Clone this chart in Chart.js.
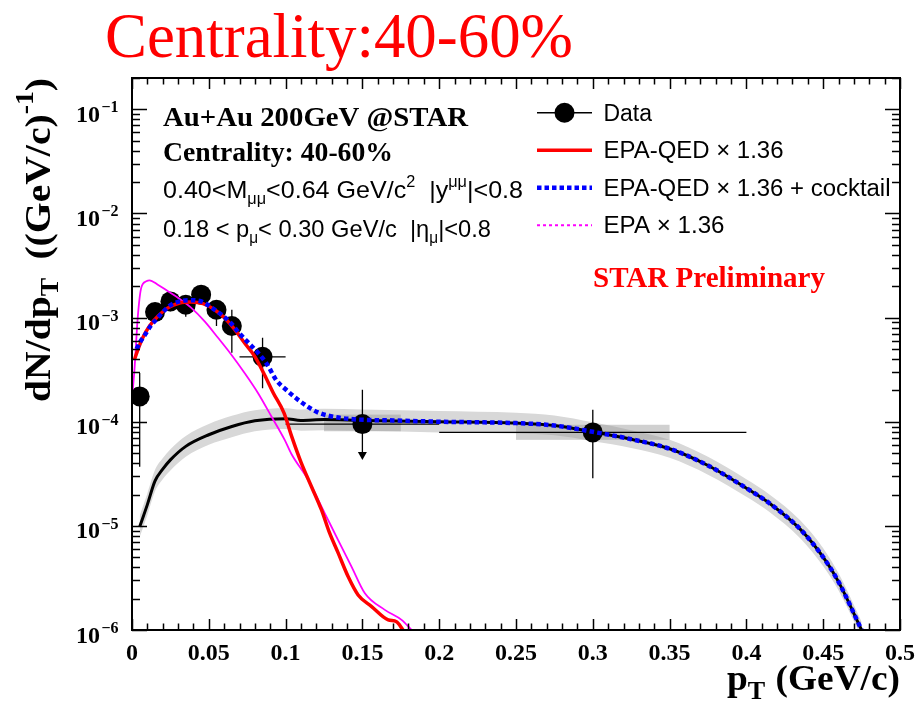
<!DOCTYPE html>
<html><head><meta charset="utf-8">
<script src="https://cdn.jsdelivr.net/npm/chart.js@4/dist/chart.umd.min.js"></script>
<style>html,body{margin:0;padding:0;background:#fff;}canvas{display:block;}</style>
</head><body>
<canvas id="c" width="917" height="706"></canvas>
<script>
// ---------- data ----------
const xTickValues = [0, 0.05, 0.1, 0.15, 0.2, 0.25, 0.3, 0.35, 0.4, 0.45, 0.5];
const yTickExponents = [-6, -5, -4, -3, -2, -1];

const dataX     = [0.005, 0.015, 0.025, 0.035, 0.045, 0.055, 0.065, 0.085, 0.15, 0.30];
const dataY     = [1.75e-4, 1.13e-3, 1.43e-3, 1.33e-3, 1.66e-3, 1.19e-3, 8.3e-4, 4.2e-4, 9.5e-5, 7.9e-5];
const dataXErr  = [0.005, 0.005, 0.005, 0.005, 0.005, 0.005, 0.005, 0.015, 0.05, 0.1];
const dataYLow  = [3.7e-5, 9.5e-4, 1.15e-3, 1.02e-3, 1.4e-3, 8.3e-4, 4.6e-4, 2.1e-4, 4.3e-5, 2.87e-5];
const dataYHigh = [2.94e-4, 1.35e-3, 1.75e-3, 1.65e-3, 2.0e-3, 1.47e-3, 1.19e-3, 6.4e-4, 2.03e-4, 1.3e-4];
const dataArrow = [0, 0, 0, 0, 0, 0, 0, 0, 1, 0];

const sysX     = [0.15, 0.30];
const sysHalfW = [0.025, 0.05];
const sysLow   = [8.1e-5, 6.7e-5];
const sysHigh  = [1.17e-4, 9.35e-5];

const cocktailX  = [0.005, 0.01, 0.015, 0.02, 0.025, 0.035, 0.05, 0.065, 0.08, 0.1, 0.11, 0.125, 0.15, 0.2, 0.25, 0.275, 0.3, 0.325, 0.35, 0.375, 0.4, 0.415, 0.435, 0.45, 0.46, 0.475];
const cocktailY  = [9.8e-6, 1.6e-5, 2.7e-5, 3.5e-5, 4.3e-5, 5.8e-5, 7.5e-5, 9.0e-5, 1.02e-4, 1.07e-4, 1.03e-4, 1.05e-4, 1.03e-4, 1.0e-4, 9.7e-5, 9.2e-5, 8.0e-5, 6.8e-5, 5.5e-5, 3.8e-5, 2.3e-5, 1.65e-5, 9.3e-6, 5.0e-6, 2.9e-6, 1.0e-6];
const cocktailUp = [1.25e-5, 2.05e-5, 3.45e-5, 4.45e-5, 5.45e-5, 7.3e-5, 9.5e-5, 1.14e-4, 1.29e-4, 1.35e-4, 1.31e-4, 1.33e-4, 1.31e-4, 1.27e-4, 1.22e-4, 1.15e-4, 9.9e-5, 8.3e-5, 6.7e-5, 4.6e-5, 2.8e-5, 2.0e-5, 1.13e-5, 6.1e-6, 3.5e-6, 1.2e-6];
const cocktailLo = [7.8e-6, 1.27e-5, 2.15e-5, 2.8e-5, 3.4e-5, 4.6e-5, 6.0e-5, 7.1e-5, 8.1e-5, 8.5e-5, 8.2e-5, 8.3e-5, 8.2e-5, 7.9e-5, 7.7e-5, 7.4e-5, 6.5e-5, 5.6e-5, 4.5e-5, 3.1e-5, 1.9e-5, 1.36e-5, 7.6e-6, 4.1e-6, 2.4e-6, 8.5e-7];

const qedX = [0.0016, 0.0038, 0.007, 0.0114, 0.0168, 0.0234, 0.031, 0.0386, 0.0462, 0.0538, 0.0603, 0.0668, 0.0733, 0.0799, 0.0864, 0.092, 0.099, 0.104, 0.110, 0.1168, 0.1233, 0.1287, 0.1342, 0.1407, 0.1472, 0.156, 0.1668, 0.1722, 0.1765];
const qedY = [3.95e-4, 4.9e-4, 6.4e-4, 8.3e-4, 1.03e-3, 1.24e-3, 1.38e-3, 1.41e-3, 1.36e-3, 1.19e-3, 9.9e-4, 7.7e-4, 5.7e-4, 4.25e-4, 2.8e-4, 1.89e-4, 1.21e-4, 7.2e-5, 4.1e-5, 2.39e-5, 1.43e-5, 8.5e-6, 5.5e-6, 3.26e-6, 2.17e-6, 1.68e-6, 1.25e-6, 1.2e-6, 1.0e-6];

const sumX = [0.003, 0.0055, 0.0086, 0.0121, 0.0158, 0.0201, 0.0245, 0.031, 0.0386, 0.0462, 0.052, 0.0581, 0.0642, 0.0701, 0.0759, 0.082, 0.0881, 0.094, 0.1, 0.106, 0.1125, 0.121, 0.132, 0.147, 0.17, 0.2, 0.25, 0.275, 0.3, 0.325, 0.35, 0.375, 0.4, 0.415, 0.435, 0.45, 0.46, 0.475];
const sumY = [5.0e-4, 5.9e-4, 6.9e-4, 8.3e-4, 9.6e-4, 1.13e-3, 1.30e-3, 1.43e-3, 1.47e-3, 1.41e-3, 1.24e-3, 1.07e-3, 8.9e-4, 7.0e-4, 5.7e-4, 4.6e-4, 3.53e-4, 2.5e-4, 2.05e-4, 1.72e-4, 1.46e-4, 1.23e-4, 1.11e-4, 1.05e-4, 1.03e-4, 1.0e-4, 9.7e-5, 9.2e-5, 8.0e-5, 6.8e-5, 5.5e-5, 3.8e-5, 2.3e-5, 1.65e-5, 9.3e-6, 5.0e-6, 2.9e-6, 1.0e-6];

const epaX = [0.0005, 0.0016, 0.0038, 0.006, 0.0093, 0.0114, 0.0168, 0.0234, 0.0299, 0.0386, 0.0473, 0.056, 0.0647, 0.0733, 0.082, 0.0907, 0.0994, 0.1038, 0.1146, 0.1255, 0.1342, 0.1429, 0.1516, 0.1646, 0.1755, 0.182];
const epaY = [2.03e-4, 3.16e-4, 1.03e-3, 1.93e-3, 2.23e-3, 2.28e-3, 2.07e-3, 1.79e-3, 1.55e-3, 1.24e-3, 9.2e-4, 6.4e-4, 4.4e-4, 2.94e-4, 1.89e-4, 1.13e-4, 6.7e-5, 4.9e-5, 2.77e-5, 1.32e-5, 7.3e-6, 4.06e-6, 2.25e-6, 1.56e-6, 1.25e-6, 1.0e-6];

const legendLabels = ['Data', 'EPA-QED \u00d7 1.36', 'EPA-QED \u00d7 1.36 + cocktail', 'EPA \u00d7 1.36'];
const titleText = 'Centrality:40-60%';
const prelimText = 'STAR Preliminary';

// ---------- helpers ----------
const SERIF = "'Liberation Serif', 'Times New Roman', serif";
const SANS = "'Liberation Sans', Arial, sans-serif";
const zip = (xs, ys) => xs.map((x, i) => ({x: x, y: ys[i]}));

function drawRuns(ctx, parts, x, y, fam, weight, size, width, color) {
  ctx.save();
  ctx.fillStyle = color || '#000';
  ctx.textAlign = 'left';
  ctx.textBaseline = 'alphabetic';
  let w = 0;
  for (const p of parts) {
    ctx.font = weight + ' ' + (size * (p.s || 1)) + 'px ' + fam;
    w += ctx.measureText(p.t).width + (p.gap || 0);
  }
  const k = width ? width / w : 1;
  ctx.translate(x, y);
  ctx.scale(k, 1);
  let cx = 0;
  for (const p of parts) {
    ctx.font = weight + ' ' + (size * (p.s || 1)) + 'px ' + fam;
    ctx.fillText(p.t, cx, p.dy || 0);
    cx += ctx.measureText(p.t).width + (p.gap || 0);
  }
  ctx.restore();
}

// ---------- plugin: frame, ticks, texts, legend, error bars ----------
const decor = {
  id: 'decor',
  afterDatasetDraw(chart, args) {
    if (args.index !== 1) return; // after the band: systematic boxes
    const ctx = chart.ctx, xs = chart.scales.x, ys = chart.scales.y;
    ctx.save();
    ctx.fillStyle = 'rgba(150,150,150,0.45)';
    for (let i = 0; i < sysX.length; i++) {
      const x0 = xs.getPixelForValue(sysX[i] - sysHalfW[i]);
      const x1 = xs.getPixelForValue(sysX[i] + sysHalfW[i]);
      const y0 = ys.getPixelForValue(sysHigh[i]);
      const y1 = ys.getPixelForValue(sysLow[i]);
      ctx.fillRect(x0, y0, x1 - x0, y1 - y0);
    }
    ctx.restore();
  },
  beforeDatasetDraw(chart, args) {
    if (args.index !== 3) return; // data error bars, under markers
    const ctx = chart.ctx, xs = chart.scales.x, ys = chart.scales.y;
    ctx.save();
    ctx.strokeStyle = '#000';
    ctx.fillStyle = '#000';
    ctx.lineWidth = 1.3;
    for (let i = 0; i < dataX.length; i++) {
      const px = xs.getPixelForValue(dataX[i]);
      const py = ys.getPixelForValue(dataY[i]);
      const xl = xs.getPixelForValue(dataX[i] - dataXErr[i]);
      const xr = xs.getPixelForValue(dataX[i] + dataXErr[i]);
      const yt = ys.getPixelForValue(dataYHigh[i]);
      const yb = ys.getPixelForValue(dataYLow[i]);
      ctx.beginPath();
      ctx.moveTo(xl, py); ctx.lineTo(xr, py);
      ctx.moveTo(px, yt); ctx.lineTo(px, dataArrow[i] ? yb - 6 : yb);
      ctx.stroke();
      if (dataArrow[i]) {
        ctx.beginPath();
        ctx.moveTo(px - 4.5, yb - 8); ctx.lineTo(px + 4.5, yb - 8); ctx.lineTo(px, yb);
        ctx.closePath(); ctx.fill();
      }
    }
    ctx.restore();
  },
  afterDraw(chart) {
    const ctx = chart.ctx, a = chart.chartArea, xs = chart.scales.x, ys = chart.scales.y;
    ctx.save();
    // ticks
    ctx.strokeStyle = '#000';
    ctx.lineWidth = 1.5;
    ctx.beginPath();
    for (let i = 0; i <= 50; i++) {
      const x = Math.round(xs.getPixelForValue(i / 100)) + 0.5;
      const len = (i % 5 === 0) ? 11 : 6.5;
      ctx.moveTo(x, a.bottom); ctx.lineTo(x, a.bottom - len);
      ctx.moveTo(x, a.top); ctx.lineTo(x, a.top + len);
    }
    for (let e = -6; e <= -1; e++) {
      for (let m = 1; m <= 9; m++) {
        const v = m * Math.pow(10, e);
        if (v > ys.max * 1.0001) continue;
        const y = Math.round(ys.getPixelForValue(v)) + 0.5;
        const len = (m === 1) ? 15 : 8;
        ctx.moveTo(a.left, y); ctx.lineTo(a.left + len, y);
        ctx.moveTo(a.right, y); ctx.lineTo(a.right - len, y);
      }
    }
    ctx.stroke();
    // frame
    ctx.lineWidth = 2;
    ctx.strokeRect(a.left, a.top, a.right - a.left, a.bottom - a.top);
    // y tick labels
    ctx.fillStyle = '#000';
    for (const e of yTickExponents) {
      const y = ys.getPixelForValue(Math.pow(10, e));
      ctx.font = 'bold 24px ' + SERIF;
      ctx.textAlign = 'right';
      ctx.textBaseline = 'alphabetic';
      ctx.fillText('10', 100, y + 12.5);
      ctx.font = 'bold 16px ' + SERIF;
      ctx.textAlign = 'left';
      ctx.fillText('\u2212' + Math.abs(e), 101.5, y + 3);
    }
    ctx.restore();

    // title
    drawRuns(ctx, [{t: titleText}], 105, 57, SERIF, 'normal', 64, 468, '#ff0000');
    // annotation block
    drawRuns(ctx, [{t: 'Au+Au 200GeV @STAR'}], 163, 125.5, SERIF, 'bold', 28, 305, '#000');
    drawRuns(ctx, [{t: 'Centrality: 40-60%'}], 163, 161, SERIF, 'bold', 28, 230, '#000');
    drawRuns(ctx, [
      {t: '0.40<M'}, {t: '\u03bc\u03bc', s: 0.65, dy: 6}, {t: '<0.64 GeV/c'},
      {t: '2', s: 0.65, dy: -11}, {t: '  |y'}, {t: '\u03bc\u03bc', s: 0.65, dy: -11}, {t: '|<0.8'}
    ], 163, 198, SANS, 'normal', 24, 360, '#000');
    drawRuns(ctx, [
      {t: '0.18 < p'}, {t: '\u03bc', s: 0.65, dy: 6}, {t: '< 0.30 GeV/c  |\u03b7'},
      {t: '\u03bc', s: 0.65, dy: 6}, {t: '|<0.8'}
    ], 163, 236.5, SANS, 'normal', 24, 328, '#000');
    drawRuns(ctx, [{t: prelimText}], 593, 286.5, SERIF, 'bold', 29, 232, '#ff0000');

    // legend
    ctx.save();
    const lx0 = 537, lx1 = 592;
    const rows = [112.7, 150.3, 187.7, 225.3];
    ctx.strokeStyle = '#000'; ctx.lineWidth = 1.5;
    ctx.beginPath(); ctx.moveTo(lx0, rows[0]); ctx.lineTo(lx1, rows[0]); ctx.stroke();
    ctx.fillStyle = '#000';
    ctx.beginPath(); ctx.arc((lx0 + lx1) / 2, rows[0], 10, 0, Math.PI * 2); ctx.fill();
    ctx.strokeStyle = '#ff0000'; ctx.lineWidth = 3.5;
    ctx.beginPath(); ctx.moveTo(lx0, rows[1]); ctx.lineTo(lx1, rows[1]); ctx.stroke();
    ctx.strokeStyle = '#0000ff'; ctx.lineWidth = 4.5; ctx.setLineDash([4.5, 3]);
    ctx.beginPath(); ctx.moveTo(lx0, rows[2]); ctx.lineTo(lx1, rows[2]); ctx.stroke();
    ctx.strokeStyle = '#ff00ff'; ctx.lineWidth = 2; ctx.setLineDash([3, 3]);
    ctx.beginPath(); ctx.moveTo(lx0, rows[3]); ctx.lineTo(lx1, rows[3]); ctx.stroke();
    ctx.restore();
    const lw = [48.5, 180, 287, 121];
    const lb = [120.7, 158.3, 196, 233.3];
    for (let i = 0; i < legendLabels.length; i++) {
      drawRuns(ctx, [{t: legendLabels[i]}], 603.5, lb[i], SANS, 'normal', 23, lw[i], '#000');
    }

    // axis titles
    drawRuns(ctx, [{t: 'p'}, {t: 'T', s: 0.7, dy: 9, gap: 10}, {t: '(GeV/c)'}], 727, 690, SERIF, 'bold', 36, 173, '#000');
    ctx.save();
    ctx.translate(50, 402);
    ctx.rotate(-Math.PI / 2);
    drawRuns(ctx, [{t: 'dN/dp'}, {t: 'T', s: 0.7, dy: 8, gap: 16}, {t: '((GeV/c)'}, {t: '-1', s: 0.7, dy: -17}, {t: ')'}], 0, 0, SERIF, 'bold', 35, 324, '#000');
    ctx.restore();
  }
};

// ---------- chart ----------
const datasets = [
  {label: 'bandUp', data: zip(cocktailX, cocktailUp), fill: '+1', backgroundColor: '#d8d8d8', borderWidth: 0, pointRadius: 0, cubicInterpolationMode: 'monotone', order: 10},
  {label: 'bandLo', data: zip(cocktailX, cocktailLo), fill: false, borderWidth: 0, pointRadius: 0, cubicInterpolationMode: 'monotone', order: 9},
  {label: 'cocktail', data: zip(cocktailX, cocktailY), borderColor: '#000', borderWidth: 3, pointRadius: 0, fill: false, cubicInterpolationMode: 'monotone', order: 8},
  {label: 'Data', data: zip(dataX, dataY), showLine: false, pointRadius: 10, pointHoverRadius: 10, pointBackgroundColor: '#000', pointBorderWidth: 0, borderColor: '#000', order: 7},
  {label: 'EPA', data: zip(epaX, epaY), borderColor: '#ff00ff', borderWidth: 1.8, pointRadius: 0, fill: false, cubicInterpolationMode: 'monotone', order: 6},
  {label: 'EPA-QED', data: zip(qedX, qedY), borderColor: '#ff0000', borderWidth: 3.5, pointRadius: 0, fill: false, cubicInterpolationMode: 'monotone', order: 5},
  {label: 'EPA-QED+cocktail', data: zip(sumX, sumY), borderColor: '#0000ff', borderWidth: 4.5, borderDash: [4.5, 3.2], borderCapStyle: 'butt', pointRadius: 0, fill: false, cubicInterpolationMode: 'monotone', order: 1}
];

new Chart(document.getElementById('c'), {
  type: 'line',
  data: {datasets: datasets},
  options: {
    responsive: false,
    animation: false,
    devicePixelRatio: 1,
    layout: {padding: {left: 132, right: 17, top: 78, bottom: 0}},
    plugins: {legend: {display: false}, tooltip: {enabled: false}},
    scales: {
      x: {
        type: 'linear', min: 0, max: 0.5,
        afterBuildTicks: (s) => { s.ticks = xTickValues.map(v => ({value: v})); },
        ticks: {
          autoSkip: false, maxRotation: 0, padding: 9, color: '#000',
          font: {family: SERIF, size: 24, weight: 'bold'},
          callback: (v) => String(parseFloat(Number(v).toFixed(2)))
        },
        grid: {display: false, drawTicks: false},
        border: {display: false},
        afterFit: (s) => { s.height = 76; s.paddingLeft = 0; s.paddingRight = 0; }
      },
      y: {type: 'logarithmic', min: 1e-6, max: 0.2, display: false}
    }
  },
  plugins: [decor]
});
</script>
</body></html>
